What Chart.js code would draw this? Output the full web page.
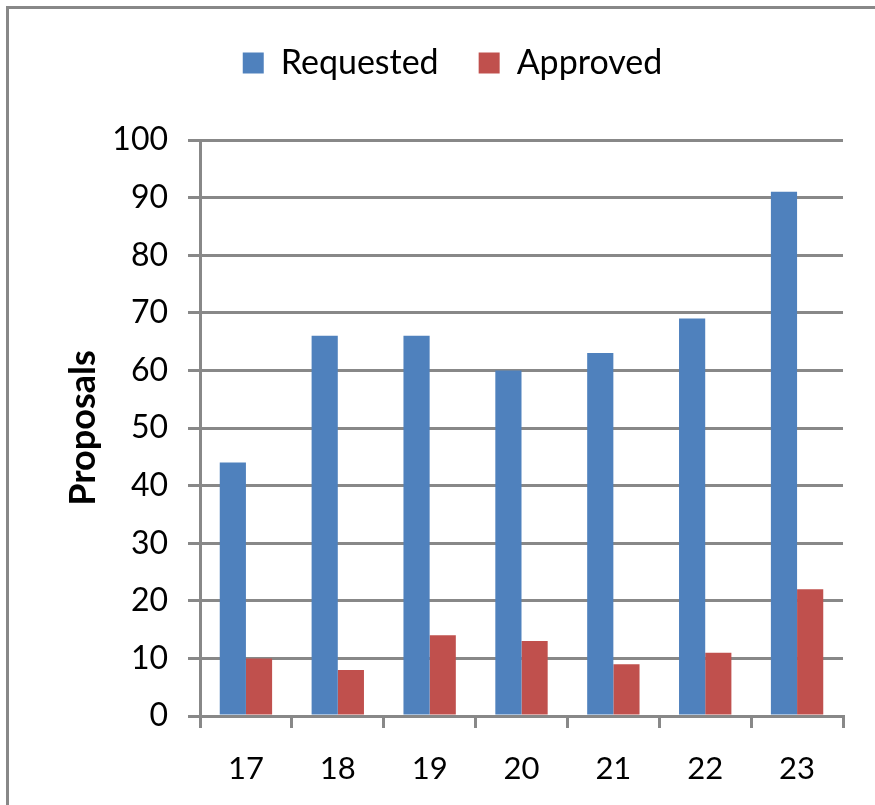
<!DOCTYPE html>
<html>
<head>
<meta charset="utf-8">
<script src="https://cdn.jsdelivr.net/npm/chart.js@4"></script>
<style>
  html, body { margin:0; padding:0; background:#fff; overflow:hidden; }
  #frame { position:absolute; left:6px; top:6px; width:1000px; height:1000px; border:3px solid #888; box-sizing:border-box; }
  #wrap { position:absolute; left:0; top:0; width:875px; height:805px; }
</style>
</head>
<body>
<div id="frame"></div>
<div id="wrap"><canvas id="chart"></canvas></div>
<script>
const categories = ['17','18','19','20','21','22','23'];
const requested = [44, 66, 66, 60, 63, 69, 91];
const approved = [10, 8, 14, 13, 9, 11, 22];
const yTicks = [0,10,20,30,40,50,60,70,80,90,100];

const gray = '#888888';
const font = "Lato, 'Open Sans', sans-serif";

// extra room below the legend
const legendGap = {
  id: 'legendGap',
  beforeInit(chart) {
    const fit = chart.legend.fit;
    chart.legend.fit = function() { fit.bind(this)(); this.height += 50; };
  }
};

const ctx = document.getElementById('chart').getContext('2d');
new Chart(ctx, {
  type: 'bar',
  data: {
    labels: categories,
    datasets: [
      {label:'Requested', data:requested, backgroundColor:'#4F81BD'},
      {label:'Approved', data:approved, backgroundColor:'#C0504D'}
    ]
  },
  options: {
    responsive: true,
    maintainAspectRatio: false,
    animation: false,
    layout: {padding: {left:62, right:32, top:6, bottom:0}},
    plugins: {
      legend: {
        position: 'top',
        labels: {boxWidth:21, boxHeight:21, color:'#000', padding:40, font:{family:font, size:34}}
      },
      tooltip: {enabled:false}
    },
    datasets: {bar: {categoryPercentage:0.57, barPercentage:1.0}},
    scales: {
      x: {
        grid: {offset:true, drawOnChartArea:false, drawTicks:true, tickLength:12, color:gray, lineWidth:3},
        border: {display:true, color:gray, width:3},
        ticks: {color:'#000', padding:22, font:{family:font, size:31}},
        afterFit: s => { s.height = 89; }
      },
      y: {
        min: 0, max: 100,
        afterBuildTicks: s => { s.ticks = yTicks.map(v => ({value:v})); },
        grid: {color:gray, lineWidth:3, tickLength:12},
        border: {display:true, color:gray, width:3},
        ticks: {color:'#000', padding:20, font:{family:font, size:32}},
        title: {display:true, text:'Proposals', color:'#000', padding:{top:0, bottom:0}, font:{family:font, size:36, weight:'bold'}},
        afterFit: s => { s.width = 138; }
      }
    }
  },
  plugins: [legendGap]
});
</script>
</body>
</html>
